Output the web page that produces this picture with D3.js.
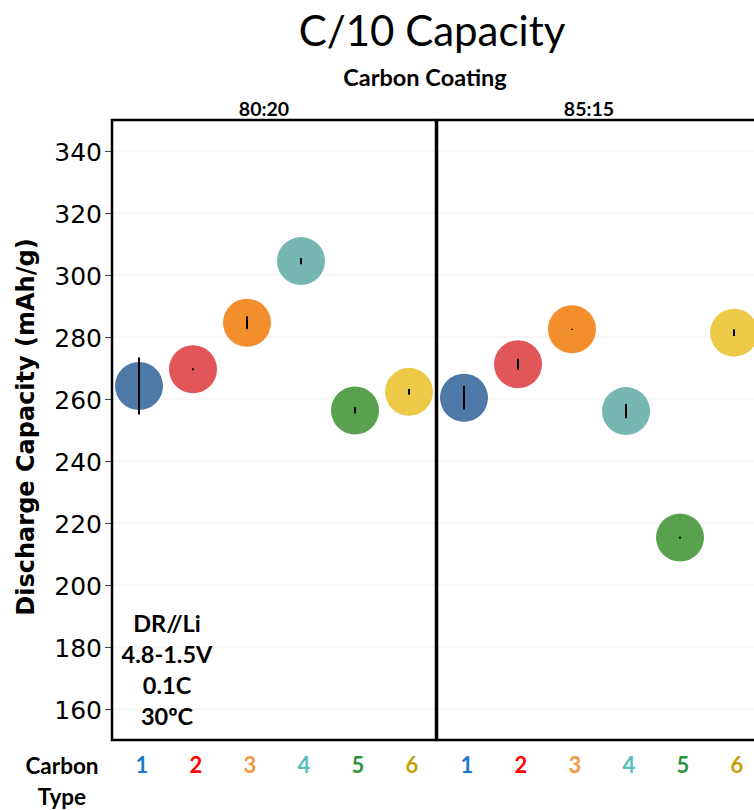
<!DOCTYPE html>
<html>
<head>
<meta charset="utf-8">
<script src="https://cdn.jsdelivr.net/npm/d3@7"></script>
<style>
  body { margin: 0; background: #fff; }
  svg { display: block; }
</style>
</head>
<body>
<div id="chart"></div>
<script>
// Data
var carbonTypes = ["1", "2", "3", "4", "5", "6"];
var coatings = ["80:20", "85:15"];
var capacity8020 = [264.2, 269.6, 284.6, 304.5, 256.3, 262.3];
var error8020 = [9.2, 0.3, 2.1, 1.0, 1.0, 0.9];
var capacity8515 = [260.4, 271.2, 282.5, 256.1, 215.3, 281.4];
var error8515 = [3.8, 1.8, 0.2, 2.3, 0.3, 1.1];
var yTicks = [160, 180, 200, 220, 240, 260, 280, 300, 320, 340];
var conditions = ["DR//Li", "4.8-1.5V", "0.1C", "30ºC"];

// colours
var pointColors = ["#4E79A7", "#E15759", "#F28E2B", "#76B7B2", "#59A14F", "#EDC948"];
var labelColors = ["#1A78CF", "#FF0000", "#F39743", "#58BDBD", "#2E933A", "#C89D0C"];

var width = 754;
var height = 810;

var svg = d3
    .select("#chart")
    .append("svg")
    .attr("width", width)
    .attr("height", height);

// panel geometry
var panelTop = 120;
var panelBottom = 740;
var panelW = 324;
var panelX = [112, 437];

var y = d3.scaleLinear()
    .domain([150, 350])
    .range([panelBottom, panelTop]);

var x = d3.scaleBand()
    .domain(carbonTypes)
    .range([0, panelW])
    .padding(0);

var panels = [
    { name: coatings[0], values: capacity8020, errors: error8020 },
    { name: coatings[1], values: capacity8515, errors: error8515 }
];

// Title
svg.append("text")
    .attr("x", 432)
    .attr("y", 46)
    .attr("text-anchor", "middle")
    .style("font-family", "Lato, 'Open Sans', sans-serif")
    .style("font-size", "42px")
    .style("fill", "#000")
    .text("C/10 Capacity");

svg.append("text")
    .attr("x", 425)
    .attr("y", 86)
    .attr("text-anchor", "middle")
    .style("font-family", "Lato, 'Open Sans', sans-serif")
    .style("font-weight", "bold")
    .style("font-size", "23.5px")
    .text("Carbon Coating");

// one group per coating panel
panels.forEach(function(p, i) {
    var g = svg.append("g")
        .attr("transform", "translate(" + panelX[i] + ",0)");

    // gridlines
    g.selectAll(".grid")
        .data(yTicks)
        .enter()
        .append("line")
        .attr("class", "grid")
        .attr("x1", 0)
        .attr("x2", panelW)
        .attr("y1", function(d) { return y(d); })
        .attr("y2", function(d) { return y(d); })
        .style("stroke", "#EFEFEF")
        .style("stroke-width", 1.2);

    // strip label
    g.append("text")
        .attr("x", panelW / 2 - 10)
        .attr("y", 116)
        .attr("text-anchor", "middle")
        .style("font-family", "Lato, 'Open Sans', sans-serif")
        .style("font-weight", "bold")
        .style("font-size", "19.5px")
        .text(p.name);

    // circles
    g.selectAll(".dot")
        .data(p.values)
        .enter()
        .append("circle")
        .attr("class", "dot")
        .attr("cx", function(d, j) { return x(carbonTypes[j]) + x.bandwidth() / 2; })
        .attr("cy", function(d) { return y(d); })
        .attr("r", 24)
        .style("fill", function(d, j) { return pointColors[j]; });

    // error bars
    g.selectAll(".err")
        .data(p.values)
        .enter()
        .append("line")
        .attr("class", "err")
        .attr("x1", function(d, j) { return x(carbonTypes[j]) + x.bandwidth() / 2; })
        .attr("x2", function(d, j) { return x(carbonTypes[j]) + x.bandwidth() / 2; })
        .attr("y1", function(d, j) { return y(d - p.errors[j]); })
        .attr("y2", function(d, j) { return y(d + p.errors[j]); })
        .style("stroke", "#000")
        .style("stroke-width", 2);

    // panel border
    g.append("rect")
        .attr("x", 0)
        .attr("y", panelTop)
        .attr("width", panelW)
        .attr("height", panelBottom - panelTop)
        .style("fill", "none")
        .style("stroke", "#000")
        .style("stroke-width", 2.5);

    // x labels (carbon type)
    g.selectAll(".xlab")
        .data(carbonTypes)
        .enter()
        .append("text")
        .attr("class", "xlab")
        .attr("x", function(d) { return x(d) + x.bandwidth() / 2 + 3; })
        .attr("y", 773)
        .attr("text-anchor", "middle")
        .style("font-family", "Lato, 'Open Sans', sans-serif")
        .style("font-weight", "bold")
        .style("font-size", "22px")
        .style("fill", function(d, j) { return labelColors[j]; })
        .text(function(d) { return d; });
});

// y axis
var yAxis = d3.axisLeft(y)
    .tickValues(yTicks)
    .tickSize(6)
    .tickPadding(3);

var yG = svg.append("g")
    .attr("transform", "translate(" + (panelX[0] - 1) + ",0)")
    .call(yAxis);

yG.select(".domain").remove();
yG.selectAll(".tick line").style("stroke", "#444").style("stroke-width", 1);
yG.selectAll(".tick text")
    .style("font-family", "'DejaVu Sans', sans-serif")
    .style("font-size", "25px")
    .style("fill", "#000")
    .attr("dy", "0.36em");

// y axis title
svg.append("text")
    .attr("transform", "translate(34,427) rotate(-90)")
    .attr("text-anchor", "middle")
    .style("font-family", "'DejaVu Sans', sans-serif")
    .style("font-weight", "bold")
    .style("font-size", "24px")
    .text("Discharge Capacity (mAh/g)");

// conditions annotation
svg.append("g")
    .selectAll("text")
    .data(conditions)
    .enter()
    .append("text")
    .attr("x", 167)
    .attr("y", function(d, i) { return 632 + i * 31; })
    .attr("text-anchor", "middle")
    .style("font-family", "Lato, 'Open Sans', sans-serif")
    .style("font-weight", "bold")
    .style("font-size", "23.5px")
    .text(function(d) { return d; });

// "Carbon Type" label
svg.append("g")
    .selectAll("text")
    .data(["Carbon", "Type"])
    .enter()
    .append("text")
    .attr("x", 62)
    .attr("y", function(d, i) { return 774 + i * 31; })
    .attr("text-anchor", "middle")
    .style("font-family", "Lato, 'Open Sans', sans-serif")
    .style("font-weight", "bold")
    .style("font-size", "22.5px")
    .text(function(d) { return d; });
</script>
</body>
</html>
